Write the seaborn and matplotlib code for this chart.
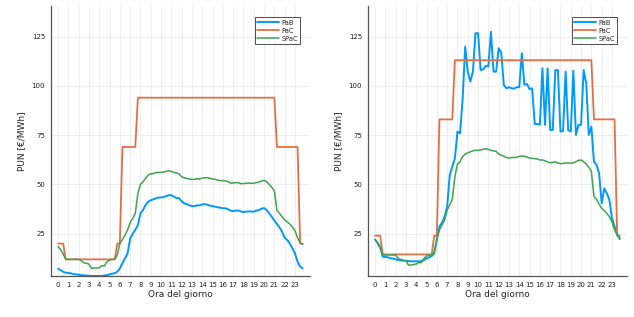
import numpy as np
import pandas as pd
import matplotlib
matplotlib.use("Agg")
import matplotlib.pyplot as plt
import seaborn as sns

# --- DATA (15-minute resolution, 96 points per day) ---
hours = np.arange(96) * 0.25
xticks = list(range(24))
yticks = [25, 50, 75, 100, 125]

# left panel
left_pab = [7.2, 6.5, 5.7, 5.2, 5.1, 4.9, 4.5, 4.4, 4.2, 4.0, 3.9, 3.8,
            3.7, 3.6, 3.6, 3.6, 3.6, 3.6, 3.8, 4.0, 4.4, 4.7, 5.0, 5.7,
            7.4, 10.0, 12.5, 15.0, 22.6, 25.0, 27.0, 29.4, 35.3, 37.0, 39.6, 41.2,
            42.0, 42.4, 43.0, 43.3, 43.4, 43.6, 44.1, 44.6, 44.5, 43.8, 43.1, 43.0,
            41.4, 40.4, 40.0, 39.4, 39.0, 39.0, 39.4, 39.4, 39.9, 40.0, 39.7, 39.2,
            39.0, 38.7, 38.4, 38.2, 37.9, 37.9, 37.4, 36.7, 36.5, 36.7, 36.8, 36.3,
            36.0, 36.2, 36.3, 36.3, 36.2, 36.7, 37.0, 37.7, 38.0, 37.0, 35.3, 33.6,
            31.6, 29.9, 28.2, 26.0, 23.0, 21.8, 20.0, 17.6, 15.0, 10.8, 8.3, 7.4]
left_pac = [20] * 3 + [12] * 20 + [20] * 2 + [69] * 6 + [94] * 54 + [69] * 9 + [20] * 2
left_spac = [18.4, 17.0, 14.7, 12.0, 12.0, 12.0, 12.0, 12.0, 12.0, 11.3, 10.3, 10.0,
             9.6, 7.4, 7.6, 7.6, 7.7, 8.8, 8.6, 10.8, 11.6, 12.0, 12.0, 14.2,
             20.1, 22.0, 24.3, 26.9, 30.6, 32.8, 35.3, 45.5, 50.0, 51.4, 53.1, 54.8,
             55.3, 55.6, 56.0, 56.1, 56.1, 56.3, 56.6, 57.0, 56.6, 56.1, 55.8, 55.3,
             53.9, 53.4, 53.1, 52.7, 52.6, 52.6, 52.9, 52.7, 53.3, 53.4, 53.4, 53.1,
             52.7, 52.6, 52.2, 52.0, 51.9, 51.9, 51.4, 50.7, 50.7, 50.9, 50.9, 50.4,
             50.4, 50.6, 50.7, 50.6, 50.6, 50.9, 51.2, 51.7, 52.1, 51.4, 50.0, 48.5,
             46.8, 36.7, 35.3, 33.6, 31.9, 31.0, 29.9, 28.5, 26.5, 23.0, 20.3, 19.7]

# right panel
right_pab = [22.1, 20.4, 18.4, 13.3, 13.3, 13.0, 12.6, 12.3, 12.0, 11.6, 11.5, 11.3,
             11.3, 11.1, 11.0, 11.0, 11.0, 11.0, 11.1, 11.6, 12.5, 13.0, 13.7, 15.0,
             21.8, 28.6, 30.6, 33.6, 38.7, 54.8, 59.0, 63.2, 76.8, 75.9, 92.9, 119.9,
             107.2, 102.2, 107.2, 126.7, 126.7, 108.0, 108.4, 110.1, 109.8, 127.5, 107.2, 107.2,
             119.1, 116.9, 100.5, 98.8, 99.3, 98.8, 98.6, 99.3, 99.3, 116.5, 100.5, 101.0,
             98.3, 98.8, 80.7, 80.7, 80.3, 108.9, 80.2, 108.9, 77.6, 77.6, 108.0, 108.0,
             76.8, 77.1, 107.2, 77.6, 76.8, 107.7, 75.1, 80.2, 80.2, 108.0, 101.3, 75.1,
             79.3, 61.5, 59.9, 55.6, 40.4, 48.0, 45.5, 42.1, 32.8, 28.6, 25.2, 22.6]
right_pac = [24] * 3 + [14.5] * 20 + [24] * 2 + [83] * 6 + [113] * 54 + [83] * 9 + [24] * 2
right_spac = [22.1, 20.1, 17.6, 14.2, 14.2, 14.2, 14.2, 14.2, 14.2, 12.5, 12.0, 11.6,
              11.3, 9.1, 9.1, 9.4, 9.6, 10.4, 10.3, 12.5, 13.7, 14.2, 14.2, 15.9,
              22.6, 26.9, 29.4, 31.9, 37.0, 39.6, 42.4, 53.9, 60.4, 61.5, 64.1, 65.4,
              66.1, 66.5, 67.1, 67.3, 67.3, 67.5, 67.8, 68.1, 67.8, 67.3, 67.0, 66.8,
              65.4, 64.8, 64.3, 63.7, 63.4, 63.6, 63.7, 63.7, 64.3, 64.4, 64.3, 63.9,
              63.4, 63.2, 63.1, 62.9, 62.4, 62.4, 62.0, 61.4, 61.0, 61.2, 61.4, 60.9,
              60.5, 60.7, 60.9, 60.9, 60.7, 61.0, 61.5, 62.2, 62.4, 61.5, 60.4, 58.7,
              56.5, 43.8, 42.4, 40.0, 37.9, 36.7, 35.3, 33.6, 31.0, 26.9, 24.3, 22.1]

series_names = ["PaB", "PaC", "SPaC"]
colors = {"PaB": "#009AFA", "PaC": "#E36F47", "SPaC": "#3EA44E"}
widths = {"PaB": 1.4, "PaC": 1.3, "SPaC": 1.1}


def make_df(pab, pac, spac):
    parts = []
    for name, vals in zip(series_names, [pab, pac, spac]):
        parts.append(pd.DataFrame({"ora": hours, "PUN": vals, "serie": name}))
    return pd.concat(parts, ignore_index=True)


sns.set_theme(style="white")
plt.rcParams["font.family"] = ["DejaVu Sans"]

fig = plt.figure(figsize=(6.34, 3.17), dpi=100)
ax1 = fig.add_axes([0.080, 0.129, 0.409, 0.852])
ax2 = fig.add_axes([0.580, 0.129, 0.409, 0.852])

for ax, data in [(ax1, make_df(left_pab, left_pac, left_spac)),
                 (ax2, make_df(right_pab, right_pac, right_spac))]:
    for name in series_names:
        sns.lineplot(data=data[data["serie"] == name], x="ora", y="PUN",
                     color=colors[name], linewidth=widths[name], label=name,
                     ax=ax, legend=False)
    ax.set_xlim(-0.71, 24.46)
    ax.set_ylim(3.5, 140.5)
    ax.set_xticks(xticks)
    ax.set_yticks(yticks)
    ax.tick_params(labelsize=5, length=2, width=0.6, pad=2, colors="#222222")
    ax.grid(True, color="#ebebeb", linewidth=0.6)
    ax.set_axisbelow(True)
    for s in ["top", "right"]:
        ax.spines[s].set_visible(False)
    for s in ["left", "bottom"]:
        ax.spines[s].set_color("#555555")
        ax.spines[s].set_linewidth(0.9)
    ax.set_xlabel("Ora del giorno", fontsize=6.5, labelpad=2)
    ax.set_ylabel("PUN [€/MWh]", fontsize=6.5, labelpad=4)
    leg = ax.legend(loc="upper right", fontsize=4.8, frameon=True, fancybox=False,
                    handlelength=3.2, handletextpad=0.4, borderpad=0.35,
                    labelspacing=0.3, bbox_to_anchor=(0.975, 0.97))
    leg.get_frame().set_edgecolor("#222222")
    leg.get_frame().set_linewidth(0.7)

fig.savefig("out.png", dpi=100)
